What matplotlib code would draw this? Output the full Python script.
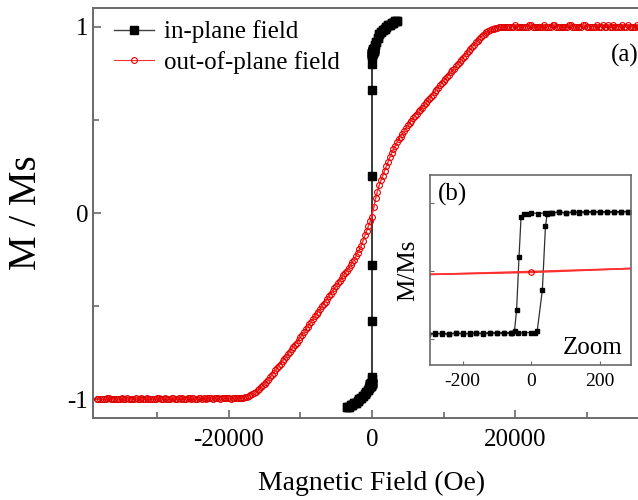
import numpy as np
import matplotlib
matplotlib.use('Agg')
import matplotlib.pyplot as plt
from matplotlib.ticker import MultipleLocator

plt.rcParams['font.family'] = ['Liberation Serif', 'DejaVu Serif']
plt.rcParams['axes.unicode_minus'] = False

# out-of-plane sweep up, 500 Oe steps
oop_field = np.arange(-38500, 38501, 500)
oop_m = [
    -1.00, -1.00, -1.00, -0.99, -1.00, -1.00, -1.00, -0.99, -1.00, -1.00,
    -1.00, -0.99, -1.00, -1.00, -0.99, -1.00, -1.00, -0.99, -1.00, -0.99,
    -1.00, -0.99, -1.00, -0.99, -0.99, -1.00, -0.99, -0.99, -1.00, -0.99,
    -0.99, -0.99, -0.99, -0.99, -0.99, -0.99, -0.99, -0.99, -0.99, -0.99,
    -0.99, -0.99, -0.985, -0.975, -0.965, -0.95, -0.935, -0.915,
    -0.895, -0.87, -0.845, -0.82, -0.795, -0.77, -0.745, -0.72, -0.695,
    -0.665, -0.64, -0.61, -0.585, -0.555, -0.53, -0.50, -0.475,
    -0.445, -0.42, -0.39, -0.365, -0.335, -0.31, -0.28, -0.25, -0.215,
    -0.175, -0.12, -0.07,
    -0.02,
    0.08, 0.15, 0.20, 0.25, 0.30, 0.345, 0.38, 0.41, 0.44, 0.47, 0.495,
    0.52, 0.545, 0.565, 0.59, 0.61,
    0.635, 0.66, 0.685, 0.71, 0.73, 0.755, 0.775, 0.80, 0.82, 0.845, 0.87,
    0.89, 0.915, 0.935,
    0.955, 0.97, 0.98, 0.99, 0.995, 1.00, 1.00,
    1.00, 1.00, 1.01, 1.00, 1.00, 1.00, 1.01, 1.00, 1.00, 1.00,
    1.01, 1.00, 1.00, 1.01, 1.00, 1.00, 1.00, 1.01, 1.00, 1.00,
    1.00, 1.01, 1.00, 1.00, 1.00, 1.01, 1.00, 1.00, 1.01, 1.00,
    1.00, 1.00, 1.01, 1.00, 1.00, 1.00, 1.01, 1.00, 1.00, 1.00,
]

# out-of-plane sweep back down, fields offset by 250 Oe
oop_field_ret = np.arange(38250, -38251, -500)
oop_m_ret = [
    1.00, 1.01, 1.00, 1.00, 1.00, 1.01, 1.00, 1.00, 1.00, 1.01,
    1.00, 1.00, 1.01, 1.00, 1.00, 1.00, 1.00, 1.01, 1.00, 1.00,
    1.00, 1.01, 1.00, 1.00, 1.00, 1.00, 1.01, 1.00, 1.00, 1.00,
    1.00, 1.00, 1.01, 1.00, 1.00, 1.00, 1.00, 1.00, 1.00,
    1.00, 1.00, 0.998, 0.993, 0.985, 0.975, 0.963, 0.945,
    0.925, 0.90, 0.88, 0.858, 0.832, 0.81, 0.788, 0.765, 0.742, 0.72, 0.698,
    0.672, 0.648, 0.622,
    0.60, 0.578, 0.555, 0.532, 0.508, 0.483, 0.455, 0.425, 0.395, 0.362,
    0.322, 0.275, 0.225, 0.175, 0.115, 0.03,
    -0.045, -0.095, -0.148, -0.195, -0.232, -0.265, -0.295, -0.322, -0.35,
    -0.378, -0.405, -0.432,
    -0.46, -0.488, -0.515, -0.542, -0.57, -0.598, -0.625, -0.652, -0.68,
    -0.708, -0.732, -0.758, -0.782, -0.808, -0.832, -0.858, -0.882,
    -0.905, -0.925, -0.943, -0.958, -0.97, -0.98, -0.988, -0.99,
    -0.99, -0.99, -1.00, -0.99, -0.99, -1.00, -0.99, -1.00, -0.99, -1.00,
    -1.00, -0.99, -1.00, -1.00, -0.99, -1.00, -1.00, -1.00, -0.99, -1.00,
    -1.00, -1.00, -0.99, -1.00, -1.00, -1.00, -1.00, -0.99, -1.00, -1.00,
    -1.00, -0.99, -1.00, -1.00, -1.00, -1.00, -0.99, -1.00, -1.00, -1.00,
]

# in-plane loop, descending branch
ip_field_dn = [3500, 3250, 3000, 2750, 2500, 2250, 2000, 1750, 1500, 1250, 1000, 800, 600, 450, 300,
               280, 260, 240, 220, 200, 180, 160, 140, 120, 100, 80, 60, 40, 20,
               0, -10, -20, -30, -36, -43, -49, -55,
               -60, -80, -100, -120, -140, -160, -180, -200, -220, -240, -260, -280,
               -300, -450, -600, -800, -1000, -1250, -1500, -1750, -2000, -2250, -2500, -2750, -3000, -3250, -3500]
ip_m_dn = [1.03, 1.03, 1.02, 1.02, 1.01, 1.01, 1.00, 0.99, 0.98, 0.97, 0.96, 0.94, 0.92, 0.90, 0.88,
           0.88, 0.87, 0.88, 0.87, 0.88, 0.87, 0.87, 0.86, 0.87, 0.86, 0.87, 0.86, 0.86, 0.85,
           0.86, 0.85, 0.85, 0.80, 0.20, -0.58, -0.88, -0.91,
           -0.92, -0.91, -0.92, -0.92, -0.93, -0.92, -0.92, -0.93, -0.92, -0.93, -0.93, -0.92,
           -0.93, -0.94, -0.95, -0.96, -0.97, -0.98, -0.99, -1.00, -1.01, -1.02, -1.02, -1.03, -1.03, -1.04, -1.04]

# in-plane loop, ascending branch
ip_field_up = [-3500, -3250, -3000, -2750, -2500, -2250, -2000, -1750, -1500, -1250, -1000, -800, -600, -450, -300,
               -280, -260, -240, -220, -200, -180, -160, -140, -120, -100, -80, -60, -40, -20,
               0, 10, 17, 32, 41, 46, 50, 60,
               80, 100, 120, 140, 160, 180, 200, 220, 240, 260, 280, 300,
               450, 600, 800, 1000, 1250, 1500, 1750, 2000, 2250, 2500, 2750, 3000, 3250, 3500]
ip_m_up = [-1.04, -1.04, -1.03, -1.03, -1.02, -1.02, -1.01, -1.00, -0.99, -0.98, -0.97, -0.96, -0.95, -0.94, -0.93,
           -0.93, -0.92, -0.93, -0.92, -0.92, -0.93, -0.92, -0.92, -0.91, -0.92, -0.92, -0.91, -0.92, -0.91,
           -0.91, -0.91, -0.89, -0.28, 0.66, 0.84, 0.86, 0.86,
           0.87, 0.86, 0.87, 0.87, 0.88, 0.87, 0.87, 0.88, 0.87, 0.88, 0.88, 0.88,
           0.90, 0.92, 0.94, 0.96, 0.97, 0.98, 0.99, 1.00, 1.01, 1.01, 1.02, 1.02, 1.03, 1.03]

ip_field = ip_field_dn + ip_field_up
ip_m = ip_m_dn + ip_m_up

spine_col = '#6a6a6a'
red_kw = dict(color='#ff3030', mfc='none', mec='#e00000', mew=0.8)

fig = plt.figure(figsize=(6.38, 5.0), dpi=100)
ax = fig.add_axes([93 / 638, 82 / 500, 558 / 638, 410 / 500])

l1, = ax.plot(ip_field, ip_m, 's-', color='#404040', mfc='k', mec='k', ms=6, lw=1,
              label='in-plane field')
ax.plot(oop_field_ret, oop_m_ret, 'o-', ms=4.2, lw=0.8, **red_kw)
l2, = ax.plot(oop_field, oop_m, 'o-', ms=4.2, lw=0.8, label='out-of-plane field', **red_kw)

ax.set_xlim(-39000, 39000)
ax.set_ylim(-1.1, 1.1)
ax.xaxis.set_major_locator(MultipleLocator(20000))
ax.xaxis.set_minor_locator(MultipleLocator(10000))
ax.yaxis.set_major_locator(MultipleLocator(1))
ax.yaxis.set_minor_locator(MultipleLocator(0.5))
ax.tick_params(which='both', direction='in', top=False, right=False, labelsize=18,
               color=spine_col, width=1.2)
ax.tick_params(which='major', length=6)
ax.tick_params(which='minor', length=4)
ax.tick_params(axis='x', pad=8)
for s in ax.spines.values():
    s.set_color(spine_col)
    s.set_linewidth(1.4)

ax.set_xlabel('Magnetic Field (Oe)', fontsize=20, labelpad=14)
ax.set_ylabel('M / Ms', fontsize=28, labelpad=16)

ax.legend(handles=[l1, l2], loc='upper left', bbox_to_anchor=(0.015, 1.0), frameon=False,
          fontsize=18, handlelength=1.6, handletextpad=0.4, labelspacing=0.3,
          borderaxespad=0.1)
fig.text(611 / 638, 1 - 55 / 500, '(a)', fontsize=18, va='center', ha='left')

# inset
ax_in = fig.add_axes([430 / 638, 135 / 500, 201 / 638, 190 / 500])
ax_in.plot(ip_field, ip_m, 's-', color='#303030', mfc='k', mec='k', ms=3.2, lw=0.9)
ax_in.plot(oop_field_ret, oop_m_ret, '-', color='#ff3030', lw=1.2)
ax_in.plot(oop_field, oop_m, 'o-', ms=4, lw=1.2, **red_kw)
ax_in.set_xlim(-295, 290)
ax_in.set_ylim(-1.39, 1.42)
ax_in.xaxis.set_major_locator(MultipleLocator(200))
ax_in.yaxis.set_major_locator(MultipleLocator(1))
ax_in.set_yticklabels([])
ax_in.tick_params(direction='in', length=3, color=spine_col, labelsize=14, pad=6)
for s in ax_in.spines.values():
    s.set_color(spine_col)
    s.set_linewidth(1.2)
ax_in.set_ylabel('M/Ms', fontsize=18, labelpad=2)
ax_in.text(0.04, 0.96, '(b)', transform=ax_in.transAxes, fontsize=18, va='top', ha='left')
ax_in.text(0.96, 0.03, 'Zoom', transform=ax_in.transAxes, fontsize=18, va='bottom', ha='right')

fig.savefig('out.png', dpi=100)
